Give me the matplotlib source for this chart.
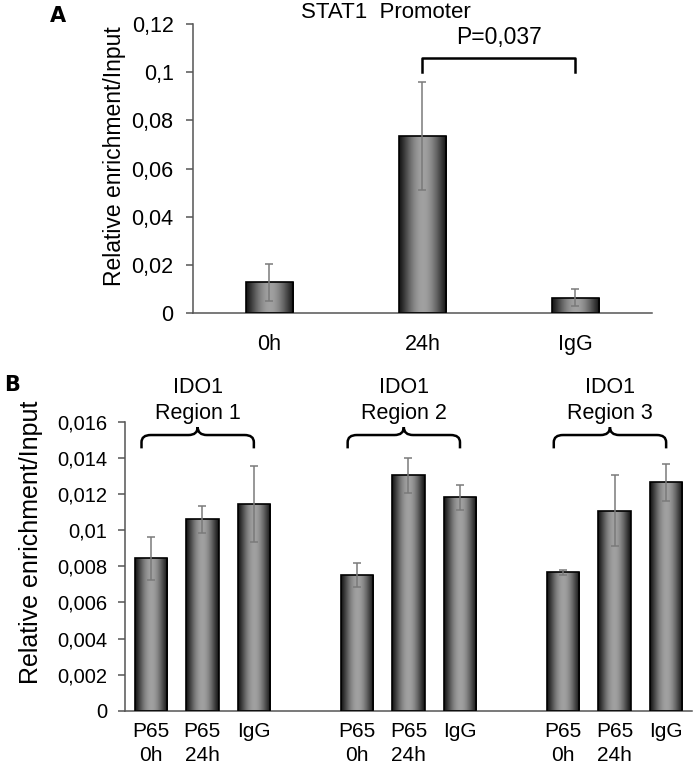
import numpy as np
import matplotlib
matplotlib.use("Agg")
import matplotlib.pyplot as plt
from matplotlib.path import Path
from matplotlib.patches import PathPatch
from matplotlib.ticker import FuncFormatter

plt.rcParams['font.family'] = ['Liberation Sans', 'DejaVu Sans']

# ---------------- data ----------------
a_categories = ["0h", "24h", "IgG"]
a_values = [0.0127, 0.0735, 0.0064]
a_errors = [0.0076, 0.0225, 0.0036]
a_ticks = [0, 0.02, 0.04, 0.06, 0.08, 0.1, 0.12]
a_title = "STAT1  Promoter"
a_pvalue = "P=0,037"

b_labels = ["P65\n0h", "P65\n24h", "IgG",
            "P65\n0h", "P65\n24h", "IgG",
            "P65\n0h", "P65\n24h", "IgG"]
b_groups = ["IDO1\nRegion 1", "IDO1\nRegion 2", "IDO1\nRegion 3"]
b_values = [0.00845, 0.01062, 0.01144,
            0.00752, 0.01306, 0.01183,
            0.00767, 0.01108, 0.01266]
b_errors = [0.0012, 0.00075, 0.0021,
            0.00068, 0.00097, 0.0007,
            0.00015, 0.00197, 0.00104]
b_ticks = [0, 0.002, 0.004, 0.006, 0.008, 0.01, 0.012, 0.014, 0.016]

ylabel = "Relative enrichment/Input"

# ---------------- helpers ----------------
def comma_fmt(v, pos=None):
    if abs(v) < 1e-12:
        return "0"
    s = ("%.3f" % v).rstrip("0").rstrip(".")
    return s.replace(".", ",")

t = np.linspace(0, 1, 200)
profile = 0.08 + 0.55 * np.sin(np.pi * t) ** 1.2
grad = np.tile(profile, (2, 1))

def gradient_bars(ax, x, vals, width, errs, ecol="#7a7a7a", capsize=3):
    bars = ax.bar(x, vals, width=width, facecolor="none", edgecolor="black",
                  linewidth=1.2, zorder=3)
    for r in bars:
        x0, w, h = r.get_x(), r.get_width(), r.get_height()
        im = ax.imshow(grad, extent=[x0, x0 + w, 0, h], aspect="auto",
                       cmap="gray", vmin=0, vmax=1, zorder=2,
                       interpolation="bilinear")
        im.set_clip_path(r)
    ax.errorbar(x, vals, yerr=errs, fmt="none", ecolor=ecol, elinewidth=1.1,
                capsize=capsize, capthick=1.1, zorder=4)
    return bars

def style_axes(ax):
    for s in ["top", "right"]:
        ax.spines[s].set_visible(False)
    for s in ["left", "bottom"]:
        ax.spines[s].set_color("#555555")
        ax.spines[s].set_linewidth(1.1)
    ax.tick_params(axis="x", length=0)
    ax.tick_params(axis="y", direction="out", length=5, width=1.1,
                   color="#555555")
    ax.yaxis.set_major_formatter(FuncFormatter(comma_fmt))

fig = plt.figure(figsize=(6.93, 7.70), dpi=100)

# ---------------- panel A ----------------
axA = fig.add_axes([0.2785, 0.5935, 0.6623, 0.3753])
xa = np.arange(len(a_categories))
gradient_bars(axA, xa, a_values, 0.31, a_errors)
axA.set_xlim(-0.5, len(a_categories) - 0.5)
axA.set_ylim(0, a_ticks[-1])
axA.set_yticks(a_ticks)
axA.set_xticks(xa)
axA.set_xticklabels(a_categories, fontsize=15.5)
axA.tick_params(axis="x", pad=15)
axA.tick_params(axis="y", labelsize=15.5, pad=9)
style_axes(axA)

# significance bracket between 24h and IgG
i1, i2 = 1, 2
y_top = a_values[i1] + a_errors[i1] + 0.010
y_end = y_top - 0.006
axA.plot([xa[i1], xa[i1], xa[i2], xa[i2]], [y_end, y_top, y_top, y_end],
         color="black", lw=1.8, clip_on=False, zorder=5)
axA.text((xa[i1] + xa[i2]) / 2, y_top + 0.0035, a_pvalue, ha="center",
         va="bottom", fontsize=16.5)

fig.text(386 / 693, 1 - 12 / 770, a_title, ha="center", va="center",
         fontsize=16)
fig.text(115 / 693, 1 - 156 / 770, ylabel, rotation=90, ha="center",
         va="center", fontsize=16.5)
fig.text(58 / 693, 1 - 16 / 770, "A", ha="center", va="center",
         fontsize=15, fontweight="bold", family=["DejaVu Sans"])

# ---------------- panel B ----------------
axB = fig.add_axes([0.1804, 0.0770, 0.8180, 0.3749])
n_per = 3
xb = np.array([g * (n_per + 1) + k for g in range(len(b_groups))
               for k in range(n_per)])
gradient_bars(axB, xb, b_values, 0.63, b_errors)
axB.set_xlim(-0.5, xb[-1] + 0.5)
axB.set_ylim(0, b_ticks[-1])
axB.set_yticks(b_ticks)
axB.set_xticks(xb)
axB.set_xticklabels(b_labels, fontsize=15, linespacing=1.35)
axB.tick_params(axis="x", pad=8)
axB.tick_params(axis="y", labelsize=14.5, pad=8)
style_axes(axB)

# curly braces over groups
yh = 0.01528
ye = 0.01454
ypk = 0.01572
rx = 0.18
ry = 0.0004
for g, name in enumerate(b_groups):
    x0 = xb[g * n_per] - 0.18
    x1 = xb[g * n_per + n_per - 1]
    xm = (x0 + x1) / 2
    verts = [(x0, ye), (x0, yh - ry), (x0, yh), (x0 + rx, yh),
             (xm - rx, yh), (xm, yh), (xm, ypk),
             (xm, yh), (xm + rx, yh),
             (x1 - rx, yh), (x1, yh), (x1, yh - ry), (x1, ye)]
    codes = [Path.MOVETO, Path.LINETO, Path.CURVE3, Path.CURVE3,
             Path.LINETO, Path.CURVE3, Path.CURVE3,
             Path.CURVE3, Path.CURVE3,
             Path.LINETO, Path.CURVE3, Path.CURVE3, Path.LINETO]
    axB.add_patch(PathPatch(Path(verts, codes), facecolor="none",
                            edgecolor="black", lw=1.8, clip_on=False,
                            zorder=5))
    axB.text(xm, 0.01588, name, ha="center", va="bottom", fontsize=15.5,
             linespacing=1.3, clip_on=False)

fig.text(31 / 693, 1 - 542 / 770, ylabel, rotation=90, ha="center",
         va="center", fontsize=18)
fig.text(12 / 693, 1 - 385 / 770, "B", ha="center", va="center",
         fontsize=15, fontweight="bold", family=["DejaVu Sans"])

fig.savefig("out.png", dpi=100)
